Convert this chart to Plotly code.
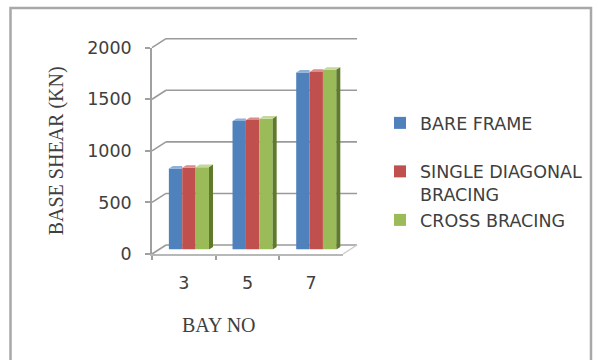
import plotly.graph_objects as go

# ---- data ----
bays = ["3", "5", "7"]
bare_frame = [785, 1245, 1715]
single_diagonal = [792, 1255, 1722]
cross_bracing = [798, 1268, 1742]

series_names = ["BARE FRAME<br> ", "SINGLE DIAGONAL<br>BRACING", "CROSS BRACING"]
series_values = [bare_frame, single_diagonal, cross_bracing]
face_colors = ["#4F81BD", "#C0504D", "#9BBB59"]
top_colors = ["#8FB0DA", "#DC8C8A", "#C3D89A"]
side_color = "#5E7A2A"

y_ticks = [0, 500, 1000, 1500, 2000]
Y_MAX = 2000

# ---- page geometry (pixels) ----
W, H = 598, 360


def fx(p):
    return p / W


def fy(p):
    return 1 - p / H


# front plane, bar plane (middle depth) and back wall
FRONT = dict(x0=152, x1=343, y0=254, y1=47.7)
MID = dict(x0=159, x1=350, y0=249.5, y1=43.2)
BACK = dict(x0=166, x1=357, y0=245, y1=38.7)


def val_to_py(plane, v):
    return plane["y0"] + (plane["y1"] - plane["y0"]) * v / Y_MAX


fig = go.Figure()

# invisible trace that carries the category axis of the front plane
fig.add_trace(go.Scatter(x=bays, y=[0, 0, 0], mode="markers", marker=dict(opacity=0),
                         showlegend=False, hoverinfo="skip", xaxis="x", yaxis="y"))

# bars in the middle-depth plane
n = len(series_values)
bar_w = 0.21
shift = -0.03
px_per_unit_x = (MID["x1"] - MID["x0"]) / 3.0
px_per_unit_y = (MID["y0"] - MID["y1"]) / Y_MAX
depth_dx = 4.0 / px_per_unit_x          # bar depth, horizontal part
depth_dy = 2.6 / px_per_unit_y          # bar depth, vertical part

offsets = [shift + (k - n / 2) * bar_w for k in range(n)]
xs = list(range(len(bays)))

for k, (name, vals) in enumerate(zip(series_names, series_values)):
    fig.add_trace(go.Bar(
        x=xs, y=vals, width=bar_w, offset=offsets[k], name=name,
        marker=dict(color=face_colors[k], line=dict(width=0)),
        xaxis="x2", yaxis="y2", legendgroup=str(k),
    ))

# top faces of the columns
for k, vals in enumerate(series_values):
    px_, py_ = [], []
    for i, v in enumerate(vals):
        xl = xs[i] + offsets[k]
        xr = xl + bar_w
        if k == n - 1:
            pts = [(xl, v), (xr, v), (xr + depth_dx, v + depth_dy), (xl + depth_dx, v + depth_dy)]
        else:
            pts = [(xl, v), (xr, v), (xr, v + depth_dy), (xl + depth_dx, v + depth_dy)]
        for a, b in pts + [pts[0]]:
            px_.append(a)
            py_.append(b)
        px_.append(None)
        py_.append(None)
    fig.add_trace(go.Scatter(x=px_, y=py_, mode="lines", fill="toself", fillcolor=top_colors[k],
                             line=dict(width=0), showlegend=False, hoverinfo="skip",
                             xaxis="x2", yaxis="y2"))

# right side faces of the last series
sx, sy = [], []
for i, v in enumerate(series_values[-1]):
    xr = xs[i] + offsets[-1] + bar_w
    pts = [(xr, 0), (xr + depth_dx, depth_dy), (xr + depth_dx, v + depth_dy), (xr, v)]
    for a, b in pts + [pts[0]]:
        sx.append(a)
        sy.append(b)
    sx.append(None)
    sy.append(None)
fig.add_trace(go.Scatter(x=sx, y=sy, mode="lines", fill="toself", fillcolor=side_color,
                         line=dict(width=0), showlegend=False, hoverinfo="skip",
                         xaxis="x2", yaxis="y2"))

# walls: diagonals from the front axis to the back wall, then the back gridlines
grid_color = "#9A9A9A"
shapes = []
for v in y_ticks:
    shapes.append(dict(type="line", xref="paper", yref="paper",
                       x0=fx(FRONT["x0"]), y0=fy(val_to_py(FRONT, v)),
                       x1=fx(BACK["x0"]), y1=fy(val_to_py(BACK, v)),
                       line=dict(color=grid_color, width=1.6), layer="below"))
    shapes.append(dict(type="line", xref="paper", yref="paper",
                       x0=fx(BACK["x0"]), y0=fy(val_to_py(BACK, v)),
                       x1=fx(BACK["x1"]), y1=fy(val_to_py(BACK, v)),
                       line=dict(color=grid_color, width=1.6), layer="below"))
shapes.append(dict(type="line", xref="paper", yref="paper",
                   x0=fx(FRONT["x1"]), y0=fy(FRONT["y0"]), x1=fx(BACK["x1"]), y1=fy(BACK["y0"]),
                   line=dict(color="#C8C8C8", width=1.2), layer="below"))
# outer chart border
shapes.append(dict(type="rect", xref="paper", yref="paper",
                   x0=fx(10.5), y0=fy(8), x1=fx(591), y1=fy(375),
                   line=dict(color="#A8A8A8", width=2.5), layer="below"))

text_font = dict(family="DejaVu Sans", size=17.5, color="#404040")

fig.update_layout(
    width=W, height=H,
    margin=dict(l=0, r=0, t=0, b=0, autoexpand=False),
    paper_bgcolor="white", plot_bgcolor="rgba(0,0,0,0)",
    barmode="overlay",
    shapes=shapes,
    showlegend=True,
    legend=dict(x=fx(380), y=fy(105), xanchor="left", yanchor="top",
                font=text_font, valign="top", tracegroupgap=0,
                bgcolor="rgba(0,0,0,0)", traceorder="normal"),
    xaxis=dict(domain=[fx(FRONT["x0"]), fx(FRONT["x1"])], anchor="y",
               type="category", categoryorder="array", categoryarray=bays,
               range=[-0.5, 2.5], tickson="boundaries",
               showline=True, linecolor="#B8B8B8", linewidth=1.5,
               ticks="outside", ticklen=4, tickcolor="#A0A0A0", tickwidth=1.5,
               showgrid=False, zeroline=False, automargin=False,
               tickfont=text_font, ticklabelstandoff=12, fixedrange=True),
    yaxis=dict(domain=[fy(FRONT["y0"]), fy(FRONT["y1"])], anchor="x",
               range=[0, Y_MAX], tickvals=y_ticks,
               showline=True, linecolor="#A0A0A0", linewidth=1.5,
               ticks="outside", ticklen=5, tickcolor="#A0A0A0", tickwidth=1.5,
               showgrid=False, zeroline=False, automargin=False,
               tickfont=text_font, ticklabelstandoff=10,
               title=dict(text="BASE SHEAR (KN)", standoff=18,
                          font=dict(family="Liberation Serif", size=20, color="#404040")),
               fixedrange=True),
    xaxis2=dict(domain=[fx(MID["x0"]), fx(MID["x1"])], anchor="y2",
                range=[-0.5, 2.5], visible=False, fixedrange=True),
    yaxis2=dict(domain=[fy(MID["y0"]), fy(MID["y1"])], anchor="x2",
                range=[0, Y_MAX], visible=False, fixedrange=True),
    annotations=[dict(text="BAY NO", xref="paper", yref="paper",
                      x=fx(219), y=fy(325), xanchor="center", yanchor="middle",
                      showarrow=False,
                      font=dict(family="Liberation Serif", size=20, color="#404040"))],
)

fig.write_html("out.html")
